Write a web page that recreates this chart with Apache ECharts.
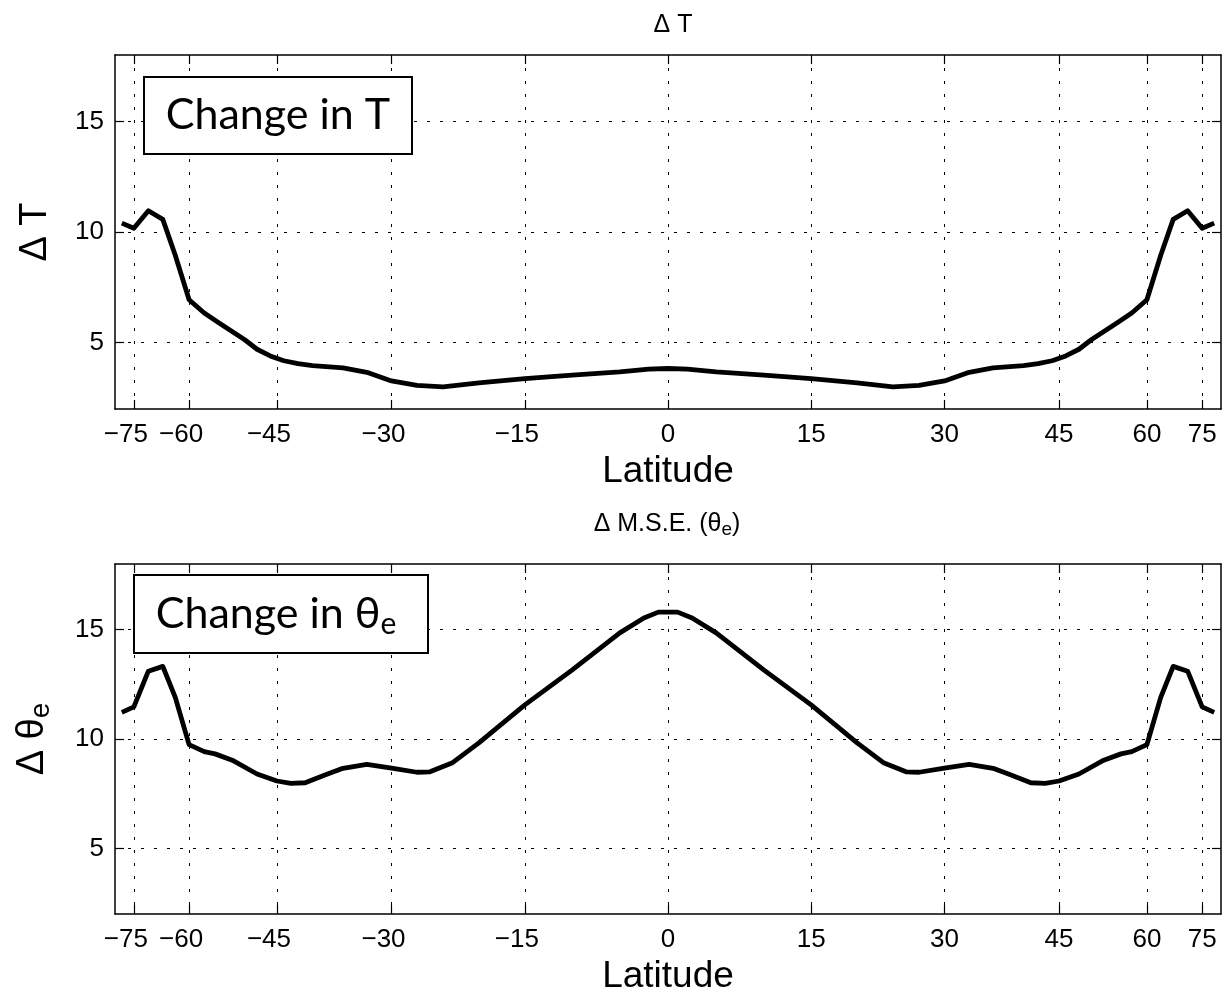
<!DOCTYPE html>
<html>
<head>
<meta charset="utf-8">
<script src="https://cdn.jsdelivr.net/npm/echarts@6/dist/echarts.min.js"></script>
<style>html,body{margin:0;padding:0;background:#fff}#c{width:1224px;height:996px}</style>
</head>
<body>
<div id="c"></div>
<script>
// Tick labels (degrees latitude); the x axis is sin(latitude)
const latTicks = [-75, -60, -45, -30, -15, 0, 15, 30, 45, 60, 75];
const yTicks = [5, 10, 15];

// Top panel: change in T
const latT = [-81, -75, -70, -66, -63, -60, -57, -54, -50, -48, -46, -44, -42, -40, -36, -33, -30, -27, -24, -20, -15, -10, -5, -2, 0,
              2, 5, 10, 15, 20, 24, 27, 30, 33, 36, 40, 42, 44, 46, 48, 50, 54, 57, 60, 63, 66, 70, 75, 81];
const valT = [10.4, 10.17, 10.96, 10.57, 8.95, 6.94, 6.34, 5.84, 5.14, 4.7, 4.4, 4.18, 4.05, 3.96, 3.86, 3.66, 3.27, 3.07, 3.0, 3.18, 3.37, 3.53, 3.68, 3.8, 3.83,
              3.8, 3.68, 3.53, 3.37, 3.18, 3.0, 3.07, 3.27, 3.66, 3.86, 3.96, 4.05, 4.18, 4.4, 4.7, 5.14, 5.84, 6.34, 6.94, 8.95, 10.57, 10.96, 10.17, 10.4];

// Bottom panel: change in theta_e
const latE = [-81, -75, -70, -66, -63, -60, -57, -55, -52, -48, -45, -43, -41, -38, -36, -33, -30, -27, -25.5, -23, -20, -15, -10, -5, -2.5, -1,
              1, 2.5, 5, 10, 15, 20, 23, 25.5, 27, 30, 33, 36, 38, 41, 43, 45, 48, 52, 55, 57, 60, 63, 66, 70, 75, 81];
const valE = [11.22, 11.47, 13.1, 13.32, 11.9, 9.74, 9.42, 9.32, 9.03, 8.4, 8.08, 7.97, 8.0, 8.4, 8.66, 8.84, 8.67, 8.48, 8.5, 8.9, 9.82, 11.56, 13.15, 14.85, 15.53, 15.8,
              15.8, 15.53, 14.85, 13.15, 11.56, 9.82, 8.9, 8.5, 8.48, 8.67, 8.84, 8.66, 8.4, 8.0, 7.97, 8.08, 8.4, 9.03, 9.32, 9.42, 9.74, 11.9, 13.32, 13.1, 11.47, 11.22];

const rad = d => Math.sin(d * Math.PI / 180);
const tickS = latTicks.map(rad);
const FONT = 'Liberation Sans';

function xAxes(gi) {
  return [{
    gridIndex: gi, type: 'value', min: -1, max: 1, position: 'bottom',
    name: 'Latitude', nameLocation: 'middle', nameGap: 44,
    nameTextStyle: { fontFamily: FONT, fontSize: 37, color: '#000' },
    axisLine: { show: true, onZero: false, lineStyle: { color: '#000', width: 1.5 } },
    axisTick: { show: true, inside: true, length: 9, customValues: tickS, lineStyle: { color: '#000', width: 1.2 } },
    axisLabel: {
      customValues: tickS, fontFamily: FONT, fontSize: 26, color: '#000', margin: 13,
      formatter: v => {
        const d = Math.round(Math.asin(v) * 180 / Math.PI);
        return d < 0 ? '{n|\u2212' + (-d) + '}' : String(d);
      },
      rich: { n: { fontFamily: FONT, fontSize: 26, color: '#000', padding: [0, 16, 0, 0] } }
    },
    splitLine: { show: true, lineStyle: { color: '#000', width: 1, type: [3, 10] } }
  }, {
    gridIndex: gi, type: 'value', min: -1, max: 1, position: 'top',
    axisLine: { show: true, onZero: false, lineStyle: { color: '#000', width: 1.5 } },
    axisTick: { show: true, inside: true, length: 9, customValues: tickS, lineStyle: { color: '#000', width: 1.2 } },
    axisLabel: { show: false }, splitLine: { show: false }
  }];
}
function yAxes(gi, name, rich) {
  return [{
    gridIndex: gi, type: 'value', min: 2, max: 18, position: 'left',
    name: name, nameLocation: 'middle', nameGap: 60, nameRotate: 90,
    nameTextStyle: { fontFamily: FONT, fontSize: 38, color: '#000', rich: rich },
    axisLine: { show: true, onZero: false, lineStyle: { color: '#000', width: 1.5 } },
    axisTick: { show: true, inside: true, length: 9, customValues: yTicks, lineStyle: { color: '#000', width: 1.2 } },
    axisLabel: { customValues: yTicks, fontFamily: FONT, fontSize: 26, color: '#000', margin: 11 },
    splitLine: { show: true, lineStyle: { color: '#000', width: 1, type: [3, 10] } }
  }, {
    gridIndex: gi, type: 'value', min: 2, max: 18, position: 'right',
    axisLine: { show: true, onZero: false, lineStyle: { color: '#000', width: 1.5 } },
    axisTick: { show: true, inside: true, length: 9, customValues: yTicks, lineStyle: { color: '#000', width: 1.2 } },
    axisLabel: { show: false }, splitLine: { show: false }
  }];
}

const chart = echarts.init(document.getElementById('c'), null, { renderer: 'canvas' });
const xa = xAxes(0).concat(xAxes(1));
const ya = yAxes(0, 'Δ T', {}).concat(yAxes(1, '{a|Δ θ}{s|e}', {
  a: { fontFamily: FONT, fontSize: 38, color: '#000', lineHeight: 44 },
  s: { fontFamily: FONT, fontSize: 28, color: '#000', lineHeight: 20, verticalAlign: 'bottom' }
}));

chart.setOption({
  animation: false,
  backgroundColor: '#fff',
  title: [{
    text: 'Δ T', left: 668, top: 8, textAlign: 'center',
    textStyle: { fontFamily: FONT, fontSize: 25, fontWeight: 'normal', color: '#000' }
  }, {
    text: '{a|Δ M.S.E. (θ}{s|e}{a|)}', left: 662, top: 504, textAlign: 'center',
    textStyle: {
      fontFamily: FONT, fontSize: 25, fontWeight: 'normal', color: '#000',
      rich: {
        a: { fontFamily: FONT, fontSize: 25, color: '#000', lineHeight: 30 },
        s: { fontFamily: FONT, fontSize: 19, color: '#000', lineHeight: 16, verticalAlign: 'bottom' }
      }
    }
  }],
  grid: [
    { left: 115, top: 55, width: 1106, height: 354 },
    { left: 115, top: 564, width: 1106, height: 354 }
  ],
  xAxis: xa,
  yAxis: ya,
  series: [{
    type: 'line', xAxisIndex: 0, yAxisIndex: 0, showSymbol: false, symbol: 'none',
    lineStyle: { color: '#000', width: 4.8, join: 'round' },
    data: latT.map((la, i) => [rad(la), valT[i]])
  }, {
    type: 'line', xAxisIndex: 2, yAxisIndex: 2, showSymbol: false, symbol: 'none',
    lineStyle: { color: '#000', width: 4.8, join: 'round' },
    data: latE.map((la, i) => [rad(la), valE[i]])
  }],
  graphic: [{
    type: 'rect', shape: { x: 144, y: 77, width: 268, height: 77 },
    style: { fill: '#fff', stroke: '#000', lineWidth: 2 }, z: 100
  }, {
    type: 'text', x: 278, y: 115, z: 101,
    style: { text: 'Change in T', fontFamily: 'Lato', fontSize: 43, fill: '#000', align: 'center', verticalAlign: 'middle' }
  }, {
    type: 'rect', shape: { x: 134, y: 575, width: 294, height: 78 },
    style: { fill: '#fff', stroke: '#000', lineWidth: 2 }, z: 100
  }, {
    type: 'text', x: 276, y: 614, z: 101,
    style: {
      text: '{a|Change in θ}{s|e}', align: 'center', verticalAlign: 'middle',
      rich: {
        a: { fontFamily: 'Lato', fontSize: 43, fill: '#000', lineHeight: 50 },
        s: { fontFamily: 'Lato', fontSize: 30, fill: '#000', lineHeight: 22, verticalAlign: 'bottom' }
      }
    }
  }]
});
</script>
</body>
</html>
